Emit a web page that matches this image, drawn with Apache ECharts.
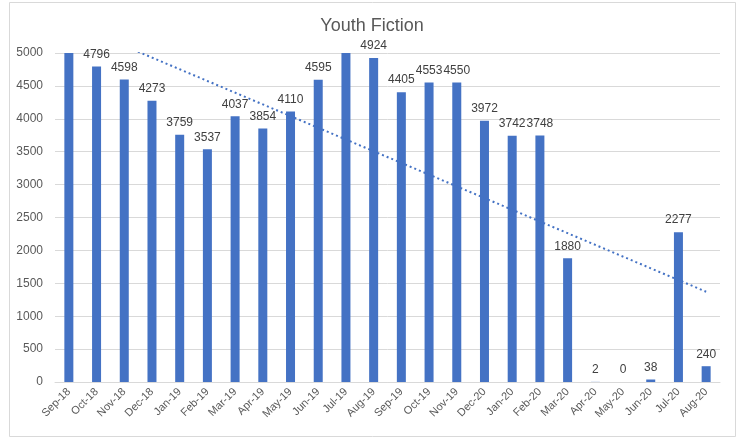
<!DOCTYPE html>
<html>
<head>
<meta charset="utf-8">
<script src="https://cdn.jsdelivr.net/npm/echarts@6/dist/echarts.min.js"></script>
<style>
  html, body { margin: 0; padding: 0; background: #ffffff; }
  #chart { width: 744px; height: 438px; }
</style>
</head>
<body>
<div id="chart"></div>
<script>
// Monthly youth fiction figures
const months = ['Sep-18','Oct-18','Nov-18','Dec-18','Jan-19','Feb-19','Mar-19','Apr-19','May-19','Jun-19','Jul-19','Aug-19',
                'Sep-19','Oct-19','Nov-19','Dec-20','Jan-20','Feb-20','Mar-20','Apr-20','May-20','Jun-20','Jul-20','Aug-20'];
const counts = [5100, 4796, 4598, 4273, 3759, 3537, 4037, 3854, 4110, 4595, 5050, 4924,
                4405, 4553, 4550, 3972, 3742, 3748, 1880, 2, 0, 38, 2277, 240];
const yTicks = [0, 500, 1000, 1500, 2000, 2500, 3000, 3500, 4000, 4500, 5000];

const yMin = yTicks[0];
const yMax = yTicks[yTicks.length - 1];

// Least-squares linear trend over the series
function linearTrend(vals) {
  const n = vals.length;
  let sx = 0, sy = 0, sxx = 0, sxy = 0;
  vals.forEach((v, i) => { sx += i; sy += v; sxx += i * i; sxy += i * v; });
  const slope = (n * sxy - sx * sy) / (n * sxx - sx * sx);
  const icpt = (sy - slope * sx) / n;
  return vals.map((_, i) => icpt + slope * i);
}
const trend = linearTrend(counts);

// Values above the axis ceiling are cut off, so their labels are not drawn
const barData = counts.map(v => v > yMax ? { value: v, label: { show: false } } : v);

const chart = echarts.init(document.getElementById('chart'), null, { renderer: 'canvas' });
chart.setOption({
  animation: false,
  backgroundColor: '#ffffff',
  title: {
    text: 'Youth Fiction',
    left: 'center',
    top: 12,
    textStyle: { fontFamily: 'Liberation Sans', fontSize: 18, fontWeight: 'normal', color: '#595959' }
  },
  graphic: [{
    type: 'rect',
    shape: { x: 9.5, y: 2.5, width: 726, height: 434 },
    style: { fill: null, stroke: '#d9d9d9', lineWidth: 1 },
    silent: true
  }],
  grid: { left: 55, right: 24, top: 53, bottom: 56, containLabel: false },
  xAxis: {
    type: 'category',
    data: months,
    axisLine: { show: true, lineStyle: { color: '#d9d9d9', width: 1 } },
    axisTick: { show: false },
    axisLabel: {
      interval: 0, rotate: 45, margin: 8,
      fontFamily: 'Liberation Sans', fontSize: 11, color: '#595959'
    }
  },
  yAxis: {
    type: 'value',
    min: yMin, max: yMax, interval: 500,
    axisLine: { show: false },
    axisTick: { show: false },
    splitLine: { lineStyle: { color: '#d9d9d9', width: 1 } },
    axisLabel: {
      margin: 12, fontFamily: 'Liberation Sans', fontSize: 12, color: '#595959',
      formatter: v => String(v)
    }
  },
  series: [
    {
      type: 'bar',
      data: barData,
      barWidth: 9,
      clip: true,
      itemStyle: { color: '#4472c4' },
      label: {
        show: true, position: 'top', distance: 6,
        fontFamily: 'Liberation Sans', fontSize: 12, color: '#404040'
      }
    },
    {
      type: 'line',
      data: trend,
      clip: true,
      symbol: 'none',
      silent: true,
      lineStyle: { color: '#4472c4', width: 2, type: [2, 3] },
      z: 3
    }
  ]
});
</script>
</body>
</html>
